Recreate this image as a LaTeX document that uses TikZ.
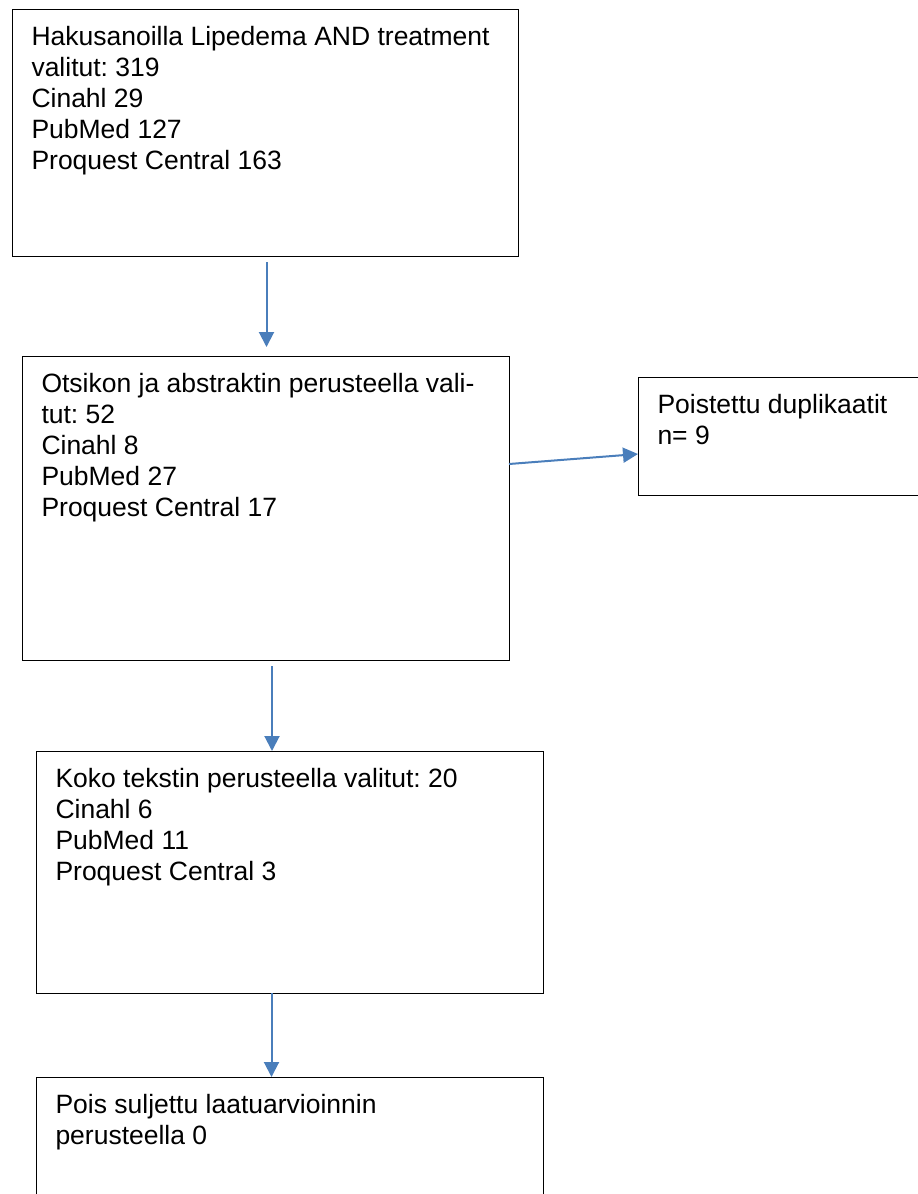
\documentclass[tikz,border=0pt]{standalone}
\usepackage{fontspec}
\setmainfont{Liberation Sans}
\usetikzlibrary{arrows.meta, positioning}
\definecolor{arrowblue}{RGB}{74,126,187}
\frenchspacing
\newcommand{\boxtext}[3]{\parbox[t][#2][t]{#1}{\raggedright\rule{0pt}{36.5pt}#3}}

\begin{document}
\begin{tikzpicture}[
  x=1pt, y=-1pt,
  font=\fontsize{26.5}{31}\selectfont,
  box/.style={
    rectangle,
    draw=black, line width=1pt,
    inner xsep=19.5pt, inner ysep=0pt, outer sep=0pt,
    anchor=north west
  },
  arrow/.style={-{Triangle[width=15pt, length=15pt]}, draw=arrowblue, line width=2pt}
]
\useasboundingbox (0,0) rectangle (918,1194);
\clip (0,0) rectangle (918,1194);

\node[box] (search) at (12,9) {\boxtext{467pt}{247pt}{Hakusanoilla Lipedema AND treatment\\valitut: 319\\Cinahl 29\\PubMed 127\\Proquest Central 163}};

\node[box, below=100pt of search.south west, anchor=north west, xshift=10pt] (screen) {\boxtext{448pt}{304pt}{Otsikon ja abstraktin perusteella vali-\\tut: 52\\Cinahl 8\\PubMed 27\\Proquest Central 17}};

\node[box, right=129pt of screen.north east, anchor=north west, yshift=-21pt] (dupl) {\boxtext{261pt}{118pt}{Poistettu duplikaatit\\n= 9}};

\node[box, below=91pt of screen.south west, anchor=north west, xshift=14pt] (full) {\boxtext{468pt}{242pt}{Koko tekstin perusteella valitut: 20\\Cinahl 6\\PubMed 11\\Proquest Central 3}};

\node[box, below=84pt of full.south west, anchor=north west] (quality) {\boxtext{468pt}{140pt}{Pois suljettu laatuarvioinnin\\perusteella 0}};

\draw[arrow, shorten <=6pt, shorten >=9pt] ([xshift=1.5pt]search.south) -- ([xshift=1.5pt]search.south |- screen.north);
\draw[arrow] ([yshift=-108pt]screen.north east) -- ([yshift=-77pt]dupl.north west);
\draw[arrow, shorten <=6pt] ([xshift=6.5pt]screen.south) -- ([xshift=6.5pt]screen.south |- full.north);
\draw[arrow] ([xshift=-18pt]full.south) -- ([xshift=-18pt]full.south |- quality.north);

\end{tikzpicture}
\end{document}
